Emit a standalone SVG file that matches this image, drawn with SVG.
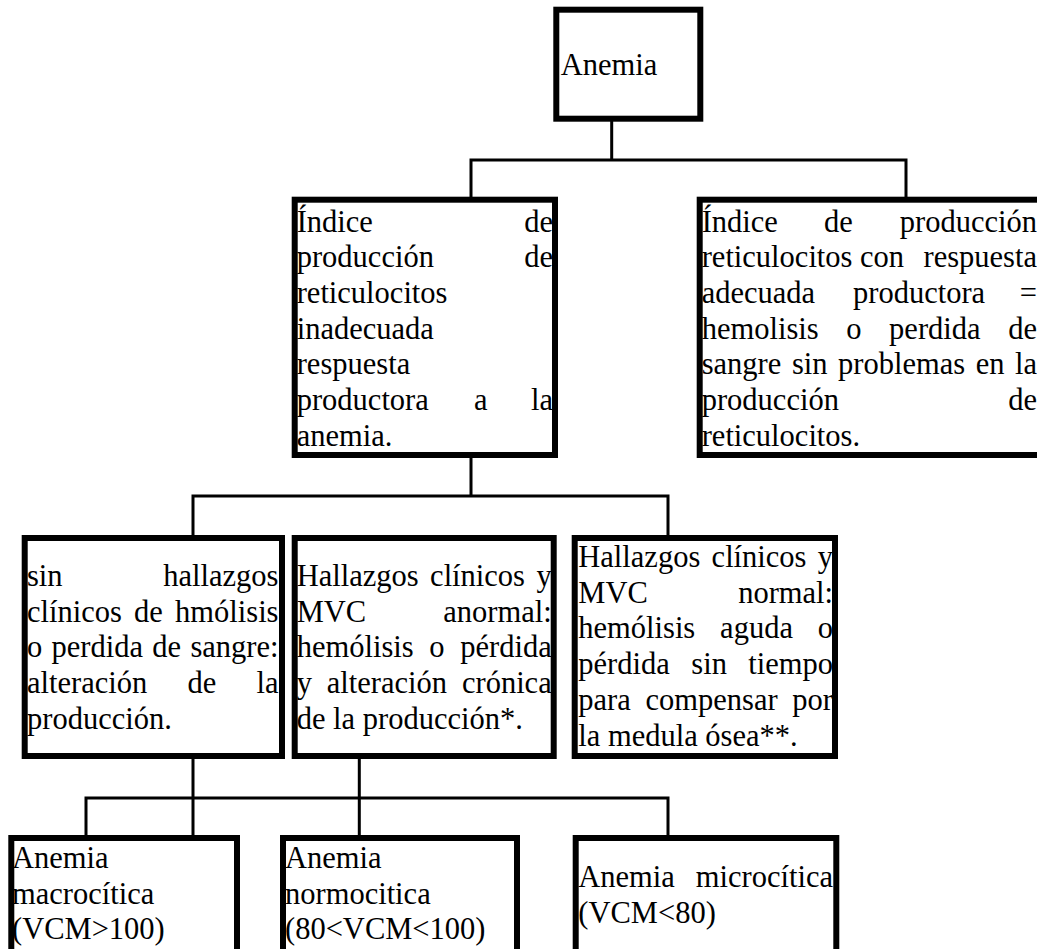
<svg xmlns="http://www.w3.org/2000/svg" width="1037" height="949" viewBox="0 0 1037 949">
<style>
.box{fill:#fff;stroke:#000;stroke-width:6}
.t{font-family:"Liberation Serif","Times New Roman",serif;font-size:30.5px;fill:#000}
.e{text-anchor:end}
.c{fill:none;stroke:#000;stroke-width:3;stroke-linecap:square}
</style>
<rect width="1037" height="949" fill="#fff"/>
<g id="connectors">
<path class="c" d="M611.7,122 V160 M471,160 H906 M471,160 V197 M906,160 V197"/>
<path class="c" d="M471,458 V496 M193,496 H668 M193,496 V535 M668,496 V535"/>
<path class="c" d="M193,759 V835 M359.3,759 V835 M86,798 H668 M86,798 V835 M668,798 V835"/>
</g>
<g id="n-anemia">
<rect class="box" x="556.3" y="9.7" width="144" height="109"/>
<text class="t" x="560.7" y="75">Anemia</text>
</g>
<g id="n-inadecuada">
<rect class="box" x="294.7" y="199.7" width="260.3" height="255.3"/>
<text class="t" x="296.7" y="231.5">Índice</text><text class="t e" x="553" y="231.5">de</text>
<text class="t" x="296.7" y="267.2">producción</text><text class="t e" x="553" y="267.2">de</text>
<text class="t" x="296.7" y="302.9">reticulocitos</text>
<text class="t" x="296.7" y="338.6">inadecuada</text>
<text class="t" x="296.7" y="374.3">respuesta</text>
<text class="t" x="296.7" y="410">productora</text><text class="t" x="474" y="410">a</text><text class="t e" x="553" y="410">la</text>
<text class="t" x="296.7" y="445.7">anemia.</text>
</g>
<g id="n-adecuada">
<rect class="box" x="699.7" y="199.7" width="345" height="255.3"/>
<text class="t" x="701.7" y="231.5">Índice</text><text class="t" x="824" y="231.5">de</text><text class="t e" x="1037" y="231.5">producción</text>
<text class="t" x="701.7" y="267.2">reticulocitos</text><text class="t" x="860" y="267.2">con</text><text class="t e" x="1037" y="267.2">respuesta</text>
<text class="t" x="701.7" y="302.9">adecuada</text><text class="t" x="853" y="302.9">productora</text><text class="t e" x="1037" y="302.9">=</text>
<text class="t" x="701.7" y="338.6">hemolisis</text><text class="t" x="846.2" y="338.6">o</text><text class="t" x="889.1" y="338.6">perdida</text><text class="t e" x="1037" y="338.6">de</text>
<text class="t" x="701.7" y="374.3">sangre</text><text class="t" x="791.9" y="374.3">sin</text><text class="t" x="838" y="374.3">problemas</text><text class="t" x="975.7" y="374.3">en</text><text class="t e" x="1037" y="374.3">la</text>
<text class="t" x="701.7" y="410">producción</text><text class="t e" x="1037" y="410">de</text>
<text class="t" x="701.7" y="445.7">reticulocitos.</text>
</g>
<g id="n-sin-hallazgos">
<rect class="box" x="24.7" y="538" width="257.3" height="218"/>
<text class="t" x="27" y="586">sin</text><text class="t e" x="278.5" y="586">hallazgos</text>
<text class="t" x="27" y="621.7">clínicos</text><text class="t" x="134.1" y="621.7">de</text><text class="t e" x="278.5" y="621.7">hmólisis</text>
<text class="t" x="27" y="657.4">o</text><text class="t" x="51.5" y="657.4">perdida</text><text class="t" x="152.3" y="657.4">de</text><text class="t e" x="278.5" y="657.4">sangre:</text>
<text class="t" x="27" y="693.1">alteración</text><text class="t" x="187.5" y="693.1">de</text><text class="t e" x="278.5" y="693.1">la</text>
<text class="t" x="27" y="728.8">producción.</text>
</g>
<g id="n-mvc-anormal">
<rect class="box" x="294.7" y="538" width="259" height="218"/>
<text class="t" x="296.7" y="586">Hallazgos</text><text class="t" x="430.1" y="586">clínicos</text><text class="t e" x="551.7" y="586">y</text>
<text class="t" x="296.7" y="621.7">MVC</text><text class="t e" x="551.7" y="621.7">anormal:</text>
<text class="t" x="296.7" y="657.4">hemólisis</text><text class="t" x="429.3" y="657.4">o</text><text class="t e" x="551.7" y="657.4">pérdida</text>
<text class="t" x="296.7" y="693.1">y</text><text class="t" x="326.8" y="693.1">alteración</text><text class="t e" x="551.7" y="693.1">crónica</text>
<text class="t" x="296.7" y="728.8">de la producción*.</text>
</g>
<g id="n-mvc-normal">
<rect class="box" x="574.7" y="538" width="260.3" height="218"/>
<text class="t" x="578.3" y="567">Hallazgos</text><text class="t" x="711.6" y="567">clínicos</text><text class="t e" x="833" y="567">y</text>
<text class="t" x="578.3" y="602.7">MVC</text><text class="t e" x="833" y="602.7">normal:</text>
<text class="t" x="578.3" y="638.4">hemólisis</text><text class="t" x="720.1" y="638.4">aguda</text><text class="t e" x="833" y="638.4">o</text>
<text class="t" x="578.3" y="674.1">pérdida</text><text class="t" x="691.3" y="674.1">sin</text><text class="t e" x="833" y="674.1">tiempo</text>
<text class="t" x="578.3" y="709.8">para</text><text class="t" x="645.5" y="709.8">compensar</text><text class="t e" x="833" y="709.8">por</text>
<text class="t" x="578.3" y="745.5">la medula ósea**.</text>
</g>
<g id="n-macro">
<rect class="box" x="11.3" y="838" width="225.7" height="130"/>
<text class="t" x="12" y="868">Anemia</text>
<text class="t" x="12" y="903.7">macrocítica</text>
<text class="t" x="12" y="939.4">(VCM&gt;100)</text>
</g>
<g id="n-normo">
<rect class="box" x="283" y="838" width="234" height="130"/>
<text class="t" x="285" y="868">Anemia</text>
<text class="t" x="285" y="903.7">normocitica</text>
<text class="t" x="285" y="939.4">(80&lt;VCM&lt;100)</text>
</g>
<g id="n-micro">
<rect class="box" x="575.7" y="838" width="260.6" height="130"/>
<text class="t" x="578.3" y="887">Anemia</text><text class="t e" x="833" y="887">microcítica</text>
<text class="t" x="578.3" y="922.7">(VCM&lt;80)</text>
</g>
</svg>
